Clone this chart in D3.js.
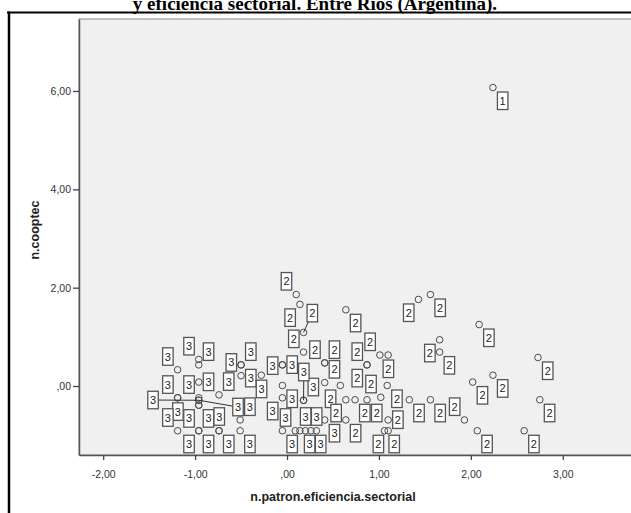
<!DOCTYPE html>
<html>
<head>
<meta charset="utf-8">
<script src="https://cdn.jsdelivr.net/npm/d3@7"></script>
<style>
  body { margin: 0; background: #fff; }
  svg { display: block; }
</style>
</head>
<body>
<div id="chart"></div>
<script>
// Cases: x = n.patron.eficiencia.sectorial, y = n.cooptec, cluster number
const xVals = [
  2.24,
  // cluster 2
  0.10, 0.14, 0.18, 0.18, 0.64, 1.43, 1.56, 1.66, 1.66, 2.09, 2.73, 2.24,
  2.02, 1.56, 2.75, 1.93, 2.07, 2.58, 1.01, 1.10, 0.87, 0.87, 1.02, 1.09,
  0.41, 0.41, 0.41, 0.58, 0.64, 0.74, 0.87, 1.33, 1.10, 1.06, 1.10, 0.64,
  // cluster 3
  -1.19, -0.96, -0.96, -0.96, -0.74, -1.19, -1.19, -0.96, -0.96, -0.96,
  -0.96, -0.96, -0.50, -0.50, -0.50, -0.28, -0.05, -0.05, -0.05, -0.05,
  -0.51, -0.51, -1.19, -0.96, -0.96, -0.74, -0.74, -0.05, 0.09, 0.14,
  0.20, 0.26, 0.32, 0.18, 0.18, 0.41
];
const yVals = [
  6.07,
  1.86, 1.66, 1.09, 0.69, 1.55, 1.76, 1.86, 0.94, 0.69, 1.25, 0.58, 0.22,
  0.08, -0.28, -0.28, -0.69, -0.91, -0.91, 0.63, 0.63, 0.43, 0.43, -0.23, 0.01,
  0.47, 0.47, 0.07, 0.01, -0.28, -0.28, -0.28, -0.28, -0.69, -0.91, -0.91, -0.69,
  0.33, 0.54, 0.43, 0.08, -0.18, -0.24, -0.24, -0.24, -0.29, -0.29,
  -0.39, -0.39, 0.43, 0.43, 0.21, 0.22, 0.43, 0.43, 0.01, -0.24,
  -0.69, -0.91, -0.91, -0.91, -0.91, -0.91, -0.91, -0.91, -0.91, -0.91,
  -0.91, -0.91, -0.91, -0.29, -0.29, -0.69
];
const clusterVals = [
  1,
  2, 2, 2, 2, 2, 2, 2, 2, 2, 2, 2, 2,
  2, 2, 2, 2, 2, 2, 2, 2, 2, 2, 2, 2,
  2, 2, 2, 2, 2, 2, 2, 2, 2, 2, 2, 2,
  3, 3, 3, 3, 3, 3, 3, 3, 3, 3,
  3, 3, 3, 3, 3, 3, 3, 3, 3, 3,
  3, 3, 3, 3, 3, 3, 3, 3, 3, 3,
  3, 3, 3, 3, 3, 3
];
// where each case label sits around its point (leader = "+" codes)
const labelPos = [
  "se",
  "nw", "sw", "n+", "nw", "se", "sw", "se", "sw", "se", "se", "se", "se",
  "se", "se", "se", "nw", "se", "se", "nw", "s", "nw", "sw", "nw", "se",
  "nw", "ne", "ne", "sw", "sw", "se", "se", "se", "e", "se", "sw", "se",
  "nw", "nw", "ne", "e", "ne", "nw", "s", "nw", "W+", "E+",
  "sw", "se", "ne", "se", "nw", "s", "w", "e", "se", "sw",
  "ne", "se", "nw", "sw", "se", "n", "se", "se", "nw", "se",
  "n", "se", "n", "ne", "N+", "se"
];
const xTicks = [-2, -1, 0, 1, 2, 3];
const yTicks = [0, 2, 4, 6];

const cases = xVals.map((d, i) => ({ x: d, y: yVals[i], k: clusterVals[i], pos: labelPos[i] }));

const width = 631, height = 513;
const plot = { left: 79, top: 19, right: 640, bottom: 455 };

const svg = d3.select("#chart").append("svg")
  .attr("width", width)
  .attr("height", height);

// page frame
svg.append("line").attr("x1", 7).attr("x2", width).attr("y1", 12.5).attr("y2", 12.5)
  .attr("stroke", "#000").attr("stroke-width", 2);
svg.append("line").attr("x1", 9).attr("x2", 9).attr("y1", 11.5).attr("y2", height)
  .attr("stroke", "#000").attr("stroke-width", 2.5);

svg.append("text")
  .attr("x", 315).attr("y", 10)
  .attr("text-anchor", "middle")
  .style("font-family", "'Liberation Serif', 'Times New Roman', serif")
  .style("font-weight", "bold")
  .style("font-size", "19px")
  .text("y eficiencia sectorial. Entre Ríos (Argentina).");

const x = d3.scaleLinear().domain([-2.263, 3.84]).range([plot.left, plot.right]);
const y = d3.scaleLinear().domain([-1.403, 7.464]).range([plot.bottom, plot.top]);

svg.append("rect")
  .attr("x", plot.left).attr("y", plot.top)
  .attr("width", plot.right - plot.left).attr("height", plot.bottom - plot.top)
  .attr("fill", "#f0f0f0")
  .attr("stroke", "#8a8a8a");

const fmt = v => {
  let s = v.toFixed(2).replace(".", ",");
  if (s.startsWith("0,")) s = s.slice(1);
  return s;
};

const gx = svg.append("g")
  .attr("transform", `translate(0,${plot.bottom})`)
  .call(d3.axisBottom(x).tickValues(xTicks).tickFormat(fmt).tickSize(5).tickSizeOuter(0).tickPadding(11));
const gy = svg.append("g")
  .attr("transform", `translate(${plot.left},0)`)
  .call(d3.axisLeft(y).tickValues(yTicks).tickFormat(fmt).tickSize(6).tickSizeOuter(0).tickPadding(2));

[gx, gy].forEach(g => {
  g.select(".domain").attr("stroke", "#555").attr("stroke-width", 1.5);
  g.selectAll(".tick line").attr("stroke", "#444").attr("stroke-width", 1.3);
  g.selectAll(".tick text")
    .attr("fill", "#333")
    .style("font-family", "'Liberation Sans', Arial, sans-serif")
    .style("font-size", "10.5px");
});

svg.append("text")
  .attr("x", 333).attr("y", 501)
  .attr("text-anchor", "middle")
  .style("font-family", "'Liberation Sans', Arial, sans-serif")
  .style("font-weight", "bold")
  .style("font-size", "12.5px")
  .attr("fill", "#222")
  .text("n.patron.eficiencia.sectorial");

svg.append("text")
  .attr("transform", "translate(39,230) rotate(-90)")
  .attr("text-anchor", "middle")
  .style("font-family", "'Liberation Sans', Arial, sans-serif")
  .style("font-weight", "bold")
  .style("font-size", "12.5px")
  .attr("fill", "#222")
  .text("n.cooptec");

// label box offsets (left, top) from the point
const boxW = 10.5, boxH = 17.5;
const offsets = {
  se: [4.5, 4.5], sw: [-15, 4.5], ne: [4.5, -22], nw: [-15, -22],
  e: [4.5, -9], w: [-15, -8], s: [-5, 5], n: [-5, -23],
  "n+": [3.5, -28], "N+": [-5, -37], "W+": [-51, -9], "E+": [34, -2]
};

const pts = svg.append("g");
pts.selectAll("circle")
  .data(cases)
  .join("circle")
  .attr("cx", d => x(d.x))
  .attr("cy", d => y(d.y))
  .attr("r", 3.3)
  .attr("fill", "none")
  .attr("stroke", "#4a4a4a")
  .attr("stroke-width", 1);

// leader lines for displaced labels
pts.selectAll("line")
  .data(cases.filter(d => d.pos.endsWith("+")))
  .join("line")
  .attr("x1", d => x(d.x))
  .attr("y1", d => y(d.y))
  .attr("x2", d => x(d.x) + offsets[d.pos][0] + boxW / 2)
  .attr("y2", d => y(d.y) + offsets[d.pos][1] + boxH / 2)
  .attr("stroke", "#333")
  .attr("stroke-width", 1);

const lab = svg.append("g").selectAll("g")
  .data(cases)
  .join("g")
  .attr("transform", d => `translate(${x(d.x) + offsets[d.pos][0]},${y(d.y) + offsets[d.pos][1]})`);

lab.append("rect")
  .attr("width", boxW).attr("height", boxH)
  .attr("fill", "#fff")
  .attr("stroke", "#555")
  .attr("stroke-width", 1.3);

lab.append("text")
  .attr("x", boxW / 2).attr("y", boxH / 2 + 4)
  .attr("text-anchor", "middle")
  .style("font-family", "'Liberation Sans', Arial, sans-serif")
  .style("font-size", "11px")
  .attr("fill", "#222")
  .text(d => d.k);
</script>
</body>
</html>
